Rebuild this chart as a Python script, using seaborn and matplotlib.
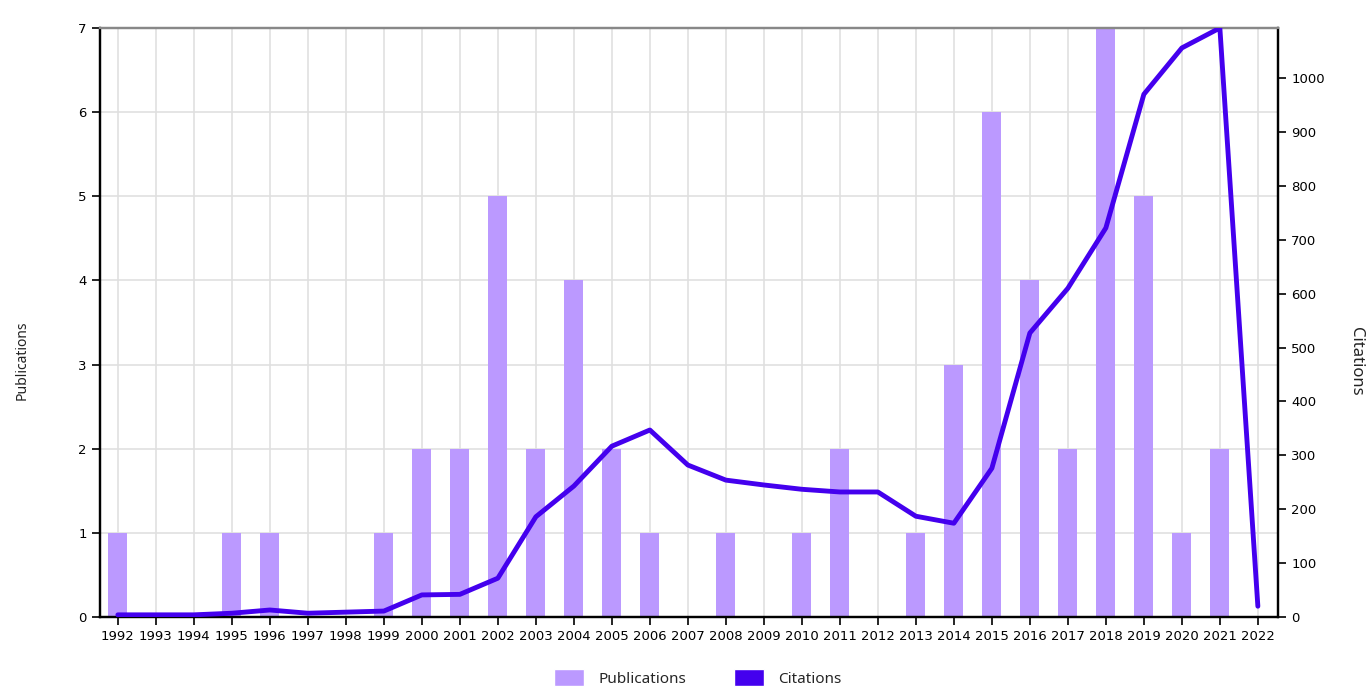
import numpy as np
import pandas as pd
import matplotlib
matplotlib.use('Agg')
from matplotlib import pyplot as plt
from matplotlib.patches import Patch
import seaborn as sns

years = list(range(1992, 2023))
publications = [1, 0, 0, 1, 1, 0, 0, 1, 2, 2, 5, 2, 4, 2, 1, 0, 1, 0, 1, 2,
                0, 1, 3, 6, 4, 2, 7, 5, 1, 2, 0]
citations = [4, 4, 4, 7, 13, 7, 9, 11, 41, 42, 72, 186, 243, 317, 347, 282,
             254, 245, 237, 232, 232, 187, 174, 276, 527, 610, 722, 970, 1056,
             1093, 20]

bar_color = '#bb99ff'
line_color = '#4400ee'

df = pd.DataFrame({'year': [str(y) for y in years], 'pos': np.arange(len(years)),
                   'publications': publications, 'citations': citations})

sns.set_style('white')
plt.rcParams['font.family'] = ['DejaVu Sans']

fig = plt.figure(figsize=(13.7, 6.95), dpi=100)
ax = fig.add_axes([100 / 1370, 1 - 617 / 695, 1178 / 1370, 589 / 695])

sns.barplot(data=df, x='year', y='publications', color=bar_color, width=0.5,
            saturation=1, linewidth=0, ax=ax, zorder=2)
ax.set_xlim(-0.47, len(years) - 0.47)
ax.set_ylim(0, 7)
ax.set_yticks(range(0, 8))
ax.grid(True, color='#e0e0e0', linewidth=1.2, zorder=0)
ax.set_axisbelow(True)
ax.set_xlabel('')
ax.set_ylabel('Publications', family=['Noto Sans'], fontsize=10, color='#222222')
ax.yaxis.set_label_coords(-0.060, 0.436)
ax.tick_params(axis='both', labelsize=9.5, direction='out', length=6, width=1.2,
               left=True, bottom=True, color='black', labelcolor='black')

ax2 = ax.twinx()
sns.lineplot(data=df, x='pos', y='citations', color=line_color, linewidth=3.5,
             ax=ax2, zorder=3)
ax2.set_ylim(0, max(citations))
ax2.set_yticks(range(0, 1001, 100))
ax2.set_xlim(ax.get_xlim())
ax2.set_xlabel('')
ax2.set_ylabel('Citations', family=['Noto Sans'], fontsize=12, rotation=270,
               va='center', color='#222222')
ax2.yaxis.set_label_coords(1.066, 0.434)
ax2.tick_params(axis='y', labelsize=9.5, direction='out', length=6, width=1.2,
                right=True, color='black', labelcolor='black')

for a in (ax, ax2):
    for side in ('left', 'bottom', 'right'):
        a.spines[side].set_color('black')
        a.spines[side].set_linewidth(1.6)
    a.spines['top'].set_color('#888888')
    a.spines['top'].set_linewidth(1.6)

handles = [Patch(facecolor=bar_color, label='Publications'),
           Patch(facecolor=line_color, label='Citations')]
leg = fig.legend(handles=handles, loc='center', bbox_to_anchor=(698 / 1370, 1 - 678 / 695),
                 ncol=2, frameon=False, prop={'family': 'Noto Sans', 'size': 11},
                 handlelength=1.96, handleheight=1.3, columnspacing=3.1, handletextpad=0.95)

fig.savefig('out.png', dpi=100)
